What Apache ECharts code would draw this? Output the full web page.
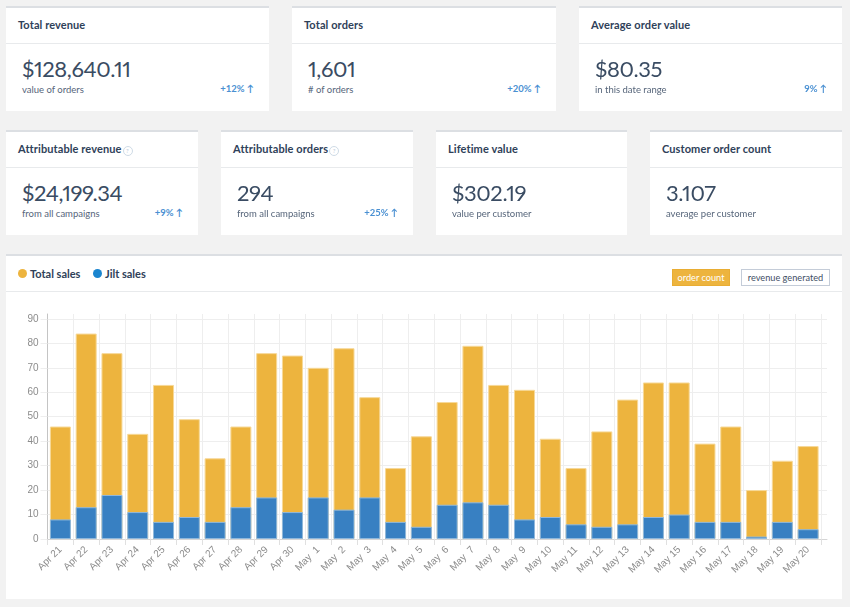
<!DOCTYPE html>
<html>
<head>
<meta charset="utf-8">
<title>Sales dashboard</title>
<script src="https://cdn.jsdelivr.net/npm/echarts@6/dist/echarts.min.js"></script>
<style>
html, body { margin: 0; padding: 0; background: #f2f2f2; }
body { width: 850px; height: 607px; position: relative; overflow: hidden; font-family: Lato, sans-serif; color: #2f4159; }
.card { position: absolute; height: 103px; background: #fff; border-top: 2px solid #dcdfe3; }
.card .head { height: 35px; line-height: 34px; padding-left: 12px; font-size: 11px; font-weight: 700; letter-spacing: .1px; border-bottom: 1px solid #e8eaec; box-sizing: content-box; }
.card .num { position: absolute; left: 16px; top: 47px; font-size: 22px; line-height: 28px; letter-spacing: -.4px; font-variant-numeric: proportional-nums; color: #3a4c63; }
.card .sub { position: absolute; left: 16px; top: 75px; font-size: 9.5px; line-height: 14px; color: #56657a; }
.card .chg { position: absolute; right: 15px; top: 74px; font-size: 9.5px; line-height: 14px; font-weight: 700; color: #4a90d2; }
.help { display: inline-block; width: 8px; height: 8px; line-height: 8px; border: 1px solid #cfdbe6; border-radius: 50%; font-size: 6px; font-weight: 400; color: #b7c8d8; text-align: center; margin-left: 1px; vertical-align: 0; }
#panel { position: absolute; left: 6px; top: 254px; width: 836px; height: 345px; background: #fff; border-top: 2px solid #dcdfe3; box-sizing: border-box; }
#panelHead { position: absolute; left: 0; top: 0; width: 100%; height: 35px; border-bottom: 1px solid #e8eaec; }
.key { position: absolute; top: 10px; font-size: 11px; line-height: 16px; font-weight: 700; padding-left: 12px; }
.key i { position: absolute; left: 0; top: 3px; width: 9px; height: 9px; border-radius: 50%; }
.btn { position: absolute; top: 13px; height: 15px; line-height: 15px; font-size: 9.2px; text-align: center; }
#chart { position: absolute; left: 0; top: 0; width: 850px; height: 607px; }
</style>
</head>
<body>
<div id="panel">
    <div id="panelHead">
        <div class="key" style="left:12px"><i style="background:#edb43e"></i>Total sales</div>
        <div class="key" style="left:87px"><i style="background:#1a85cf"></i>Jilt sales</div>
        <div class="btn" style="left:666px;width:56px;background:#edb43e;color:#fff;border:1px solid #e9ad33">order count</div>
        <div class="btn" style="left:735px;width:87px;background:#fff;color:#3f4f66;border:1px solid #c4ccd8">revenue generated</div>
    </div>
</div>
<div id="chart"></div>
<div id="cards"></div>
<script>
var days = ['Apr 21', 'Apr 22', 'Apr 23', 'Apr 24', 'Apr 25', 'Apr 26', 'Apr 27', 'Apr 28', 'Apr 29', 'Apr 30',
    'May  1', 'May  2', 'May  3', 'May  4', 'May  5', 'May  6', 'May  7', 'May  8', 'May  9', 'May 10',
    'May 11', 'May 12', 'May 13', 'May 14', 'May 15', 'May 16', 'May 17', 'May 18', 'May 19', 'May 20'];
var totalSales = [46, 84, 76, 43, 63, 49, 33, 46, 76, 75, 70, 78, 58, 29, 42, 56, 79, 63, 61, 41, 29, 44, 57, 64, 64, 39, 46, 20, 32, 38];
var jiltSales = [8, 13, 18, 11, 7, 9, 7, 13, 17, 11, 17, 12, 17, 7, 5, 14, 15, 14, 8, 9, 6, 5, 6, 9, 10, 7, 7, 1, 7, 4];

var cardTitles = ['Total revenue', 'Total orders', 'Average order value', 'Attributable revenue', 'Attributable orders', 'Lifetime value', 'Customer order count'];
var cardNumbers = ['$128,640.11', '1,601', '$80.35', '$24,199.34', '294', '$302.19', '3.107'];
var cardSubs = ['value of orders', '# of orders', 'in this date range', 'from all campaigns', 'from all campaigns', 'value per customer', 'average per customer'];
var cardChanges = ['+12%', '+20%', '9%', '+9%', '+25%', '', ''];
var cardHelp = [false, false, false, true, true, false, false];
var cardLeft = [6, 292, 579, 6, 221, 436, 650];
var cardWidth = [263, 264, 263, 192, 192, 191, 192];
var cardTop = [6, 6, 6, 130, 130, 130, 130];

var html = '';
for (var i = 0; i < cardTitles.length; i++) {
    html += '<div class="card" style="left:' + cardLeft[i] + 'px;top:' + cardTop[i] + 'px;width:' + cardWidth[i] + 'px">';
    html += '<div class="head">' + cardTitles[i] + (cardHelp[i] ? '<span class="help">?</span>' : '') + '</div>';
    html += '<div class="num">' + cardNumbers[i] + '</div>';
    html += '<div class="sub">' + cardSubs[i] + '</div>';
    if (cardChanges[i]) {
        html += '<div class="chg">' + cardChanges[i] + ' \u2191</div>';
    }
    html += '</div>';
}
document.getElementById('cards').innerHTML = html;

var chart = echarts.init(document.getElementById('chart'));
chart.setOption({
    animation: false,
    backgroundColor: 'transparent',
    // the second grid only carries the horizontal rules, they run on past the last bar
    grid: [
        { left: 47.5, top: 314, width: 773.5, height: 225 },
        { left: 47.5, top: 314, width: 779.5, height: 225 }
    ],
    xAxis: [
        {
            type: 'category',
            gridIndex: 0,
            data: days,
            boundaryGap: true,
            axisLine: { show: false },
            axisTick: { show: true, alignWithLabel: false, length: 6, lineStyle: { color: '#e0e0e0' } },
            splitLine: { show: true, lineStyle: { color: '#eeeeee', width: 1 } },
            axisLabel: {
                interval: 0,
                rotate: 45,
                margin: 9,
                fontFamily: 'Liberation Sans',
                fontSize: 10,
                color: '#8c8c8c'
            }
        },
        {
            type: 'value',
            gridIndex: 1,
            min: 0,
            max: 1,
            axisLine: { show: true, lineStyle: { color: '#d5d5d5', width: 1 } },
            axisTick: { show: false },
            axisLabel: { show: false },
            splitLine: { show: false }
        }
    ],
    yAxis: [
        {
            type: 'value',
            gridIndex: 0,
            min: 0,
            max: 92,
            interval: 10,
            axisLine: { show: true, lineStyle: { color: '#c4c4c4', width: 1 } },
            axisTick: { show: true, length: 7, lineStyle: { color: '#eeeeee' } },
            splitLine: { show: false },
            axisLabel: {
                showMaxLabel: false,
                margin: 9,
                fontFamily: 'Liberation Sans',
                fontSize: 10,
                color: '#8c8c8c'
            }
        },
        {
            type: 'value',
            gridIndex: 1,
            min: 0,
            max: 92,
            interval: 10,
            axisLine: { show: false },
            axisTick: { show: false },
            axisLabel: { show: false },
            splitLine: { show: true, showMaxLine: false, lineStyle: { color: '#eeeeee', width: 1 } }
        }
    ],
    series: [
        {
            name: 'Total sales',
            type: 'bar',
            data: totalSales,
            barGap: '-100%',
            barWidth: 21,
            itemStyle: { color: '#edb43e', borderColor: '#f7d998', borderWidth: 1 }
        },
        {
            name: 'Jilt sales',
            type: 'bar',
            data: jiltSales,
            barWidth: 21,
            itemStyle: { color: '#3880c2', borderColor: '#8fb8dc', borderWidth: 1 }
        }
    ]
});
</script>
</body>
</html>
